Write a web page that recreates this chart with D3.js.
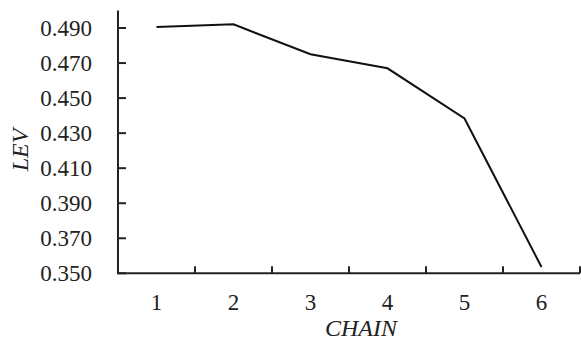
<!DOCTYPE html>
<html>
<head>
<meta charset="utf-8">
<script src="https://cdn.jsdelivr.net/npm/d3@7"></script>
<style>
  body { margin: 0; background: #fff; }
  svg { display: block; }
  text { font-family: "Liberation Serif", "Times New Roman", Times, serif; fill: #222; }
</style>
</head>
<body>
<div id="viz"></div>
<script>
var width = 581, height = 341;
var chain = ["1", "2", "3", "4", "5", "6"];
var lev = [0.4906, 0.4921, 0.4750, 0.4670, 0.4384, 0.3536];
var yTicks = [0.350, 0.370, 0.390, 0.410, 0.430, 0.450, 0.470, 0.490];

var plotLeft = 118, plotRight = 580, plotTop = 10.5, plotBottom = 273.3;

var x = d3.scaleBand()
	.domain(chain)
	.range([plotLeft, plotRight]);

var y = d3.scaleLinear()
	.domain([0.35, 0.50])
	.range([plotBottom, plotTop]);

var svg = d3.select("#viz").append("svg")
	.attr("width", width)
	.attr("height", height);

// y axis
svg.append("line")
	.attr("x1", plotLeft).attr("x2", plotLeft)
	.attr("y1", plotTop).attr("y2", plotBottom)
	.attr("stroke", "#222").attr("stroke-width", 2);

svg.selectAll(".ytick")
	.data(yTicks)
	.enter().append("line")
	.attr("class", "ytick")
	.attr("x1", plotLeft).attr("x2", plotLeft + 8)
	.attr("y1", function(d) { return y(d); })
	.attr("y2", function(d) { return y(d); })
	.attr("stroke", "#222").attr("stroke-width", 2);

svg.selectAll(".ylabel")
	.data(yTicks)
	.enter().append("text")
	.attr("class", "ylabel")
	.attr("x", 92)
	.attr("y", function(d) { return y(d) + 8; })
	.attr("text-anchor", "end")
	.style("font-size", "23px")
	.text(function(d) { return d3.format(".3f")(d); });

// x axis
svg.append("line")
	.attr("x1", plotLeft - 1).attr("x2", plotRight)
	.attr("y1", plotBottom).attr("y2", plotBottom)
	.attr("stroke", "#222").attr("stroke-width", 2);

var bounds = chain.map(function(d) { return x(d) + x.bandwidth(); });
svg.selectAll(".xtick")
	.data(bounds)
	.enter().append("line")
	.attr("class", "xtick")
	.attr("x1", function(d) { return d; })
	.attr("x2", function(d) { return d; })
	.attr("y1", plotBottom).attr("y2", plotBottom - 7)
	.attr("stroke", "#222").attr("stroke-width", 2);

svg.selectAll(".xlabel")
	.data(chain)
	.enter().append("text")
	.attr("class", "xlabel")
	.attr("x", function(d) { return x(d) + x.bandwidth() / 2; })
	.attr("y", 310)
	.attr("text-anchor", "middle")
	.style("font-size", "23px")
	.text(function(d) { return d; });

// axis titles
svg.append("text")
	.attr("x", 361).attr("y", 336)
	.attr("text-anchor", "middle")
	.style("font-size", "24px")
	.style("font-style", "italic")
	.text("CHAIN");

svg.append("text")
	.attr("transform", "translate(28,150) rotate(-90)")
	.attr("text-anchor", "middle")
	.style("font-size", "24px")
	.style("font-style", "italic")
	.text("LEV");

// line
var line = d3.line()
	.x(function(d, i) { return x(chain[i]) + x.bandwidth() / 2; })
	.y(function(d) { return y(d); });

svg.append("path")
	.datum(lev)
	.attr("d", line)
	.attr("fill", "none")
	.attr("stroke", "#111")
	.attr("stroke-width", 2);
</script>
</body>
</html>
